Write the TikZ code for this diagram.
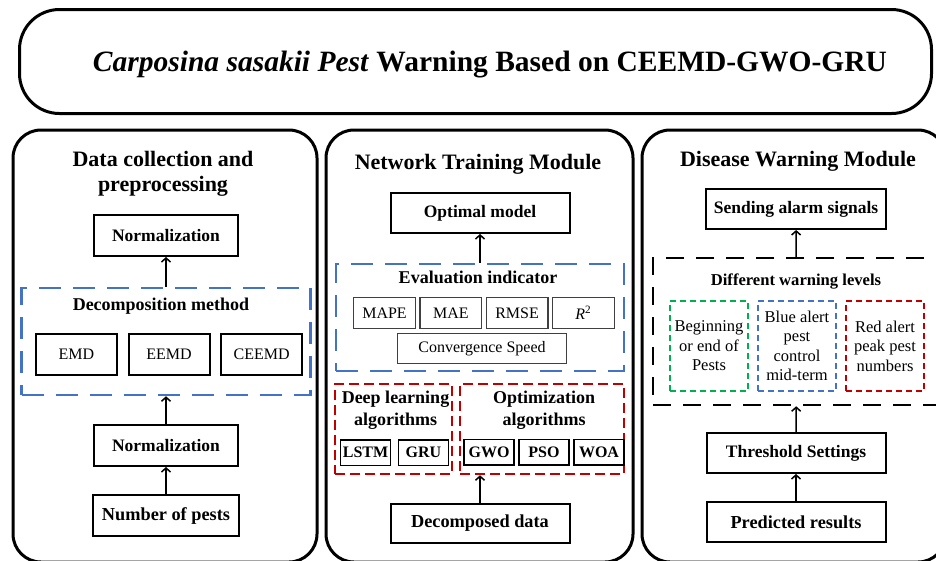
\documentclass[tikz,border=0pt]{standalone}
\usepackage{fontspec}
\setmainfont{Liberation Serif}
\usetikzlibrary{arrows.meta,positioning}

\definecolor{dashblue}{HTML}{4472C4}
\definecolor{dashred}{HTML}{C00000}
\definecolor{dashgreen}{HTML}{00B050}
\newcommand{\fsz}[2]{\fontsize{#1}{#2}\selectfont}

\begin{document}
\begin{tikzpicture}[
  x=1pt, y=-1pt,
  >={Straight Barb[length=4pt,width=9pt]},
  titlebox/.style={draw, line width=3pt, rounded corners=40pt, minimum width=912pt,
    minimum height=104pt, inner sep=0pt},
  panel/.style={draw, line width=3pt, rounded corners=28pt, minimum height=432pt,
    inner sep=0pt},
  box/.style={draw, line width=2pt, align=center, inner sep=0pt, minimum width=179pt,
    minimum height=40pt, font=\fsz{17.5}{21}\bfseries},
  subbox/.style={draw, line width=1.8pt, inner sep=0pt, minimum width=81pt,
    minimum height=41pt, font=\fsz{16}{19}},
  metric/.style={draw=black!75, text=black, line width=1.3pt, inner sep=0pt,
    minimum width=61.7pt, minimum height=31pt, font=\fsz{16}{19}},
  algo/.style={draw, line width=1.5pt, inner sep=0pt, minimum width=50pt,
    minimum height=25.5pt, font=\fsz{16}{19}\bfseries},
  bluegroup/.style={draw=dashblue, line width=2.5pt, dash pattern=on 22pt off 12pt,
    inner sep=0pt},
  redgroup/.style={draw=dashred, line width=2.5pt, dash pattern=on 10pt off 5pt,
    inner sep=0pt, minimum height=90pt},
  levelgroup/.style={draw, line width=2.5pt, dash pattern=on 18pt off 12pt, inner sep=0pt},
  levelbox/.style={line width=2pt, dash pattern=on 6pt off 4pt, inner sep=0pt,
    minimum width=78pt, minimum height=90pt, align=center, font=\fsz{16.5}{19.5}},
  heading/.style={align=center, font=\fsz{22}{25}\bfseries, inner sep=0pt},
  subheading/.style={align=center, font=\fsz{18}{21.5}\bfseries, inner sep=0pt},
  arrow/.style={->, line width=1.5pt}
]
  \useasboundingbox (0,0) rectangle (936,560);

  \node[titlebox] (titlebox) at (475.5,61.5) {};
  \node[anchor=base, inner sep=0pt, font=\fsz{29.5}{34}\bfseries] (title) at (490,71)
    {\textit{Carposina sasakii Pest} Warning Based on CEEMD-GWO-GRU};

  \node[panel, minimum width=304pt] (datapanel) at (165,346) {};
  \node[panel, minimum width=307pt] (trainpanel) at (479.5,346) {};
  \node[panel, minimum width=304pt] (warnpanel) at (794,346) {};

  \node[heading] (datatitle) at (163,173.5) {Data collection and\\preprocessing};
  \node[box, minimum width=144pt, minimum height=41pt] (normtop) at (166,235.5) {Normalization};
  \node[bluegroup, minimum width=289pt, minimum height=107pt] (decomp) at (166,341.5) {};
  \node[subheading, anchor=base] (decomplabel) at (161,310.5) {Decomposition method};
  \node[subbox] (emd) at (76.5,354.5) {EMD};
  \node[subbox, right=9.8pt of emd] (eemd) {EEMD};
  \node[subbox, right=9.8pt of eemd] (ceemd) {CEEMD};
  \node[box, minimum width=144pt, minimum height=41pt] (normmid) at (166,445.5) {Normalization};
  \node[box, minimum width=146pt, minimum height=41pt, font=\fsz{18.3}{22}\bfseries] (pests)
    at (166,515.5) {Number of pests};

  \draw[arrow] (decomp) -- (normtop);
  \draw[arrow] (normmid) -- (decomp);
  \draw[arrow] (pests) -- (normmid);

  \node[heading, anchor=base] (traintitle) at (478,169) {Network Training Module};
  \node[box] (optimal) at (480,213) {Optimal model};
  \node[bluegroup, minimum width=288pt, minimum height=107pt] (evalgrp) at (480,317.5) {};
  \node[subheading, anchor=base] (evallabel) at (478,283) {Evaluation indicator};
  \node[metric] (mape) at (384.5,313) {MAPE};
  \node[metric, right=3.3pt of mape] (mae) {MAE};
  \node[metric, right=3.3pt of mae] (rmse) {RMSE};
  \node[metric, right=3.3pt of rmse] (rsq) {\textit{R}\textsuperscript{2}};
  \node[metric, minimum width=168.7pt, minimum height=29.7pt] (speed) at (482,348.5)
    {Convergence Speed};
  \node[redgroup, minimum width=117pt] (deepgrp) at (393.5,429) {};
  \node[subheading] (deeplabel) at (395.5,410) {Deep learning\\algorithms};
  \node[algo] (lstm) at (365.5,452.5) {LSTM};
  \node[algo, right=6.5pt of lstm] (gru) {GRU};
  \node[redgroup, minimum width=164pt] (optgrp) at (542,429) {};
  \node[subheading] (optlabel) at (544,410) {Optimization\\algorithms};
  \node[algo] (gwo) at (489,452) {GWO};
  \node[algo, right=3.5pt of gwo] (pso) {PSO};
  \node[algo, right=3.5pt of pso] (woa) {WOA};
  \node[box, minimum height=39pt, font=\fsz{18.3}{22}\bfseries] (decdata) at (480,523.5)
    {Decomposed data};

  \draw[arrow] (evalgrp) -- (optimal);
  \draw[arrow] (decdata.north) -- (decdata.north |- optgrp.south);

  \node[heading, anchor=base] (warntitle) at (798,166.5) {Disease Warning Module};
  \node[box, minimum width=180pt] (sending) at (796,209) {Sending alarm signals};
  \node[levelgroup, minimum width=287pt, minimum height=147pt] (levels) at (796.5,331.5) {};
  \node[subheading, anchor=base, font=\fsz{16.6}{20}\bfseries] (levellabel) at (796,285.5)
    {Different warning levels};
  \node[levelbox, draw=dashgreen] (beginend) at (709,346) {Beginning\\or end of\\Pests};
  \node[levelbox, draw=dashblue] (bluealert) at (797,346) {Blue alert\\pest\\control\\mid-term};
  \node[levelbox, draw=dashred] (redalert) at (885,346) {Red alert\\peak pest\\numbers};
  \node[box] (threshold) at (796,453) {Threshold Settings};
  \node[box, font=\fsz{18.3}{22}\bfseries] (predicted) at (796,522) {Predicted results};

  \draw[arrow] (levels) -- (sending);
  \draw[arrow] (threshold) -- (levels);
  \draw[arrow] (predicted) -- (threshold);
\end{tikzpicture}
\end{document}
